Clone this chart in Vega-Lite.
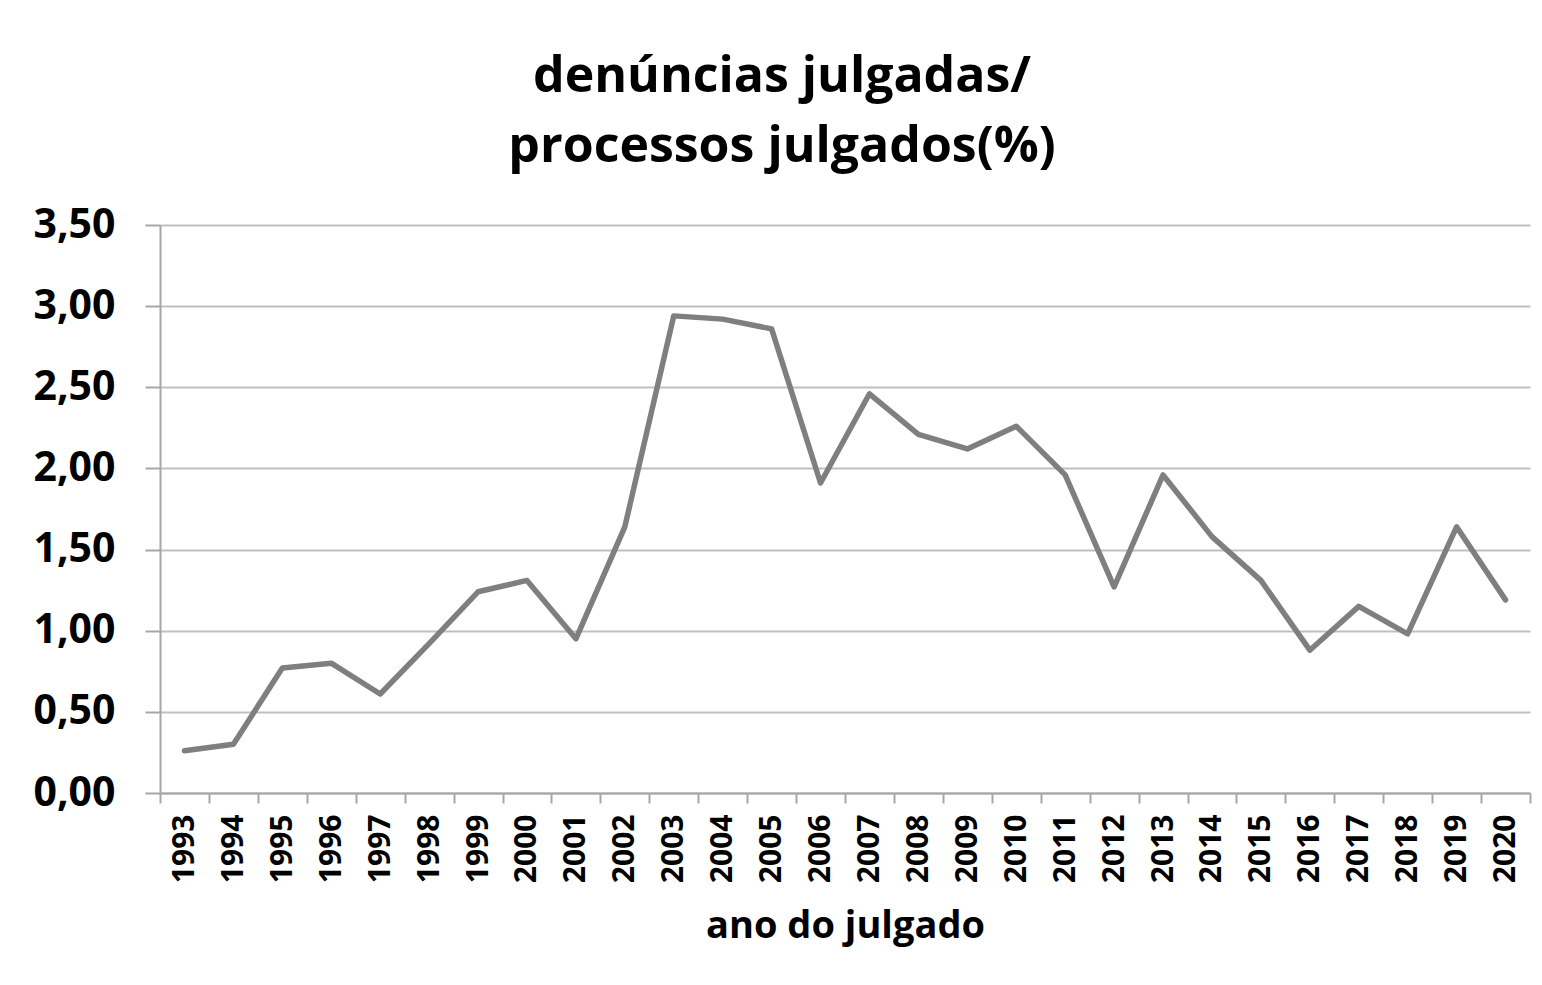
{
  "$schema": "https://vega.github.io/schema/vega-lite/v6.json",
  "width": 1370,
  "height": 568,
  "autosize": "none",
  "padding": {"left": 160, "top": 225, "right": 12, "bottom": 192},
  "background": "white",
  "title": {
    "text": ["denúncias julgadas/", "processos julgados(%)"],
    "font": "Open Sans",
    "fontSize": 50,
    "fontWeight": "bold",
    "color": "#000000",
    "anchor": "middle",
    "frame": "bounds",
    "lineHeight": 70,
    "offset": 32
  },
  "data": {
    "values": [
      {"ano": "1993", "valor": 0.26},
      {"ano": "1994", "valor": 0.30},
      {"ano": "1995", "valor": 0.77},
      {"ano": "1996", "valor": 0.80},
      {"ano": "1997", "valor": 0.61},
      {"ano": "1998", "valor": 0.92},
      {"ano": "1999", "valor": 1.24},
      {"ano": "2000", "valor": 1.31},
      {"ano": "2001", "valor": 0.95},
      {"ano": "2002", "valor": 1.64},
      {"ano": "2003", "valor": 2.94},
      {"ano": "2004", "valor": 2.92},
      {"ano": "2005", "valor": 2.86},
      {"ano": "2006", "valor": 1.91},
      {"ano": "2007", "valor": 2.46},
      {"ano": "2008", "valor": 2.21},
      {"ano": "2009", "valor": 2.12},
      {"ano": "2010", "valor": 2.26},
      {"ano": "2011", "valor": 1.96},
      {"ano": "2012", "valor": 1.27},
      {"ano": "2013", "valor": 1.96},
      {"ano": "2014", "valor": 1.58},
      {"ano": "2015", "valor": 1.31},
      {"ano": "2016", "valor": 0.88},
      {"ano": "2017", "valor": 1.15},
      {"ano": "2018", "valor": 0.98},
      {"ano": "2019", "valor": 1.64},
      {"ano": "2020", "valor": 1.19}
    ]
  },
  "mark": {"type": "line", "color": "#7f7f7f", "strokeWidth": 5.5, "strokeJoin": "round", "strokeCap": "round"},
  "encoding": {
    "x": {
      "field": "ano",
      "type": "ordinal",
      "scale": {"paddingInner": 0, "paddingOuter": 0},
      "axis": {
        "title": "ano do julgado",
        "titleFont": "Open Sans",
        "titleFontSize": 38,
        "titleFontWeight": "bold",
        "titleColor": "#000000",
        "titlePadding": 25,
        "labelAngle": -90,
        "labelFont": "Open Sans",
        "labelFontSize": 30,
        "labelFontWeight": "bold",
        "labelColor": "#000000",
        "labelPadding": 11,
        "labelAlign": "right",
        "labelBaseline": "middle",
        "tickBand": "extent",
        "tickSize": 10,
        "tickColor": "#a6a6a6",
        "tickWidth": 2,
        "domainColor": "#a6a6a6",
        "domainWidth": 2,
        "grid": false
      }
    },
    "y": {
      "field": "valor",
      "type": "quantitative",
      "scale": {"domain": [0, 3.5], "nice": false},
      "axis": {
        "title": null,
        "values": [0, 0.5, 1, 1.5, 2, 2.5, 3, 3.5],
        "labelExpr": "replace(format(datum.value, '.2f'), '.', ',')",
        "labelFont": "Open Sans",
        "labelFontSize": 41,
        "labelFontWeight": "bold",
        "labelColor": "#000000",
        "labelPadding": 30,
        "tickSize": 15,
        "tickColor": "#a6a6a6",
        "tickWidth": 2,
        "domainColor": "#a6a6a6",
        "domainWidth": 2,
        "grid": true,
        "gridColor": "#bfbfbf",
        "gridWidth": 2
      }
    }
  },
  "config": {"view": {"stroke": null}}
}
